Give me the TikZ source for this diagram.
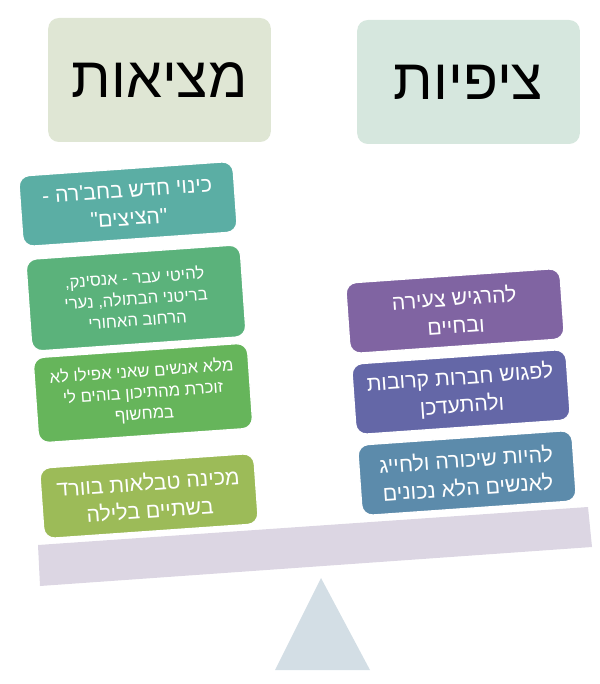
\documentclass[tikz,border=0pt]{standalone}
\usepackage{fontspec}
\newfontfamily\hebfont[Script=Hebrew]{Liberation Sans}
\TeXXeTstate=1
\usetikzlibrary{positioning}
\newcommand{\rtl}[1]{\beginR#1\endR}
\definecolor{titlegrey}{HTML}{DFE6D4}
\definecolor{titlemint}{HTML}{D6E7DE}
\definecolor{tealbox}{HTML}{5BAEA4}
\definecolor{jadebox}{HTML}{5BB27B}
\definecolor{grassbox}{HTML}{66B55B}
\definecolor{olivebox}{HTML}{9CBB58}
\definecolor{plumbox}{HTML}{8064A2}
\definecolor{indigobox}{HTML}{6467A7}
\definecolor{steelbox}{HTML}{5C8BAB}
\definecolor{beamcol}{HTML}{DCD6E3}
\definecolor{pivotcol}{HTML}{D3DEE5}
\tikzset{
  titlebox/.style={rounded corners=8pt, minimum width=167pt, minimum height=93pt, align=center, font=\hebfont\fontsize{43}{50}\selectfont},
  itembox/.style={draw=white, line width=1pt, rounded corners=8pt, minimum width=161pt, minimum height=53pt, align=center, text=white, rotate=4, font=\hebfont\fontsize{16}{21}\selectfont},
  smallitem/.style={itembox, font=\hebfont\fontsize{12.5}{16}\selectfont}
}
\begin{document}
\begin{tikzpicture}[x=0.75pt, y=-0.75pt]
  \useasboundingbox (0,0) rectangle (599,684);
  % titles
  \node[titlebox, fill=titlegrey] (real) at (159.5,80) {\rtl{מציאות}};
  \node[titlebox, fill=titlemint] (hope) at (468.5,82) {\rtl{ציפיות}};
  % left column
  \node[itembox, fill=tealbox] (nick) at (128,204) {\rtl{כינוי חדש בחב'רה -}\\\rtl{"הציצים"}};
  \node[smallitem, fill=jadebox, minimum height=69pt] (hits) at (136,298) {\rtl{להיטי עבר - אנסינק,}\\\rtl{בריטני הבתולה, נערי}\\\rtl{הרחוב האחורי}};
  \node[smallitem, fill=grassbox, minimum height=64pt] (feed) at (143,393) {\rtl{מלא אנשים שאני אפילו לא}\\\rtl{זוכרת מהתיכון בוהים לי}\\\rtl{במחשוף}};
  \node[itembox, fill=olivebox] (excel) at (149,496) {\rtl{מכינה טבלאות בוורד}\\\rtl{בשתיים בלילה}};
  % right column
  \node[itembox, fill=plumbox] (young) at (455,311) {\rtl{להרגיש צעירה}\\\rtl{ובחיים}};
  \node[itembox, fill=indigobox] (friends) at (461,392) {\rtl{לפגוש חברות קרובות}\\\rtl{ולהתעדכן}};
  \node[itembox, fill=steelbox] (drunk) at (467,473) {\rtl{להיות שיכורה ולחייג}\\\rtl{לאנשים הלא נכונים}};
  % seesaw
  \fill[beamcol] (38,545) -- (588,507) -- (592,547) -- (40,586) -- cycle;
  \fill[pivotcol] (321,578) -- (370,670) -- (275,670) -- cycle;
\end{tikzpicture}
\end{document}
